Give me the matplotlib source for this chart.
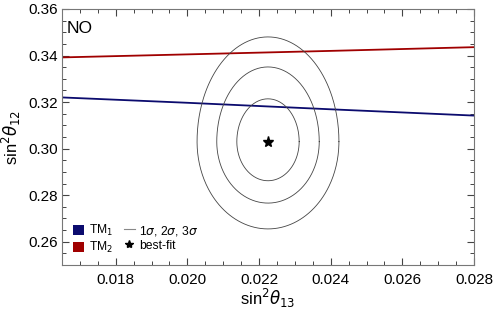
import numpy as np
import matplotlib
matplotlib.use("Agg")
import matplotlib.pyplot as plt
from matplotlib.patches import Patch
from matplotlib.lines import Line2D
from matplotlib.ticker import MultipleLocator

plt.rcParams["font.family"] = ["Liberation Sans", "DejaVu Sans"]
plt.rcParams["mathtext.fontset"] = "dejavusans"

# TM1 / TM2 prediction curves (sin^2 theta13, sin^2 theta12)
tm1_x = [0.0165, 0.0200, 0.0240, 0.0280]
tm1_y = [0.3220, 0.3197, 0.3169, 0.3142]
tm2_x = [0.0165, 0.0200, 0.0240, 0.0280]
tm2_y = [0.3392, 0.3405, 0.3420, 0.3436]

# best fit and 1,2,3 sigma contour extents
best_x, best_y = 0.02225, 0.3030
sig_dx   = [0.00087, 0.00143, 0.00198]
sig_up   = [0.0184, 0.0321, 0.0450]
sig_down = [0.0168, 0.0264, 0.0375]

fig = plt.figure(figsize=(4.94, 3.18), dpi=100)
ax = fig.add_axes([0.1255, 0.1667, 0.834, 0.805])

ax.plot(tm1_x, tm1_y, color="#0b0b6e", lw=1.3)
ax.plot(tm2_x, tm2_y, color="#a00000", lw=1.3)

t = np.linspace(0, 2 * np.pi, 400)
for dx, up, dn in zip(sig_dx, sig_up, sig_down):
    s = np.sin(t)
    xs = best_x + dx * np.cos(t)
    ys = best_y + np.where(s > 0, up, dn) * s
    ax.plot(xs, ys, color="#444444", lw=0.6)

ax.plot(best_x, best_y, marker="*", color="black", ms=8, ls="none")

ax.set_xlim(0.0165, 0.028)
ax.set_ylim(0.25, 0.36)
ax.xaxis.set_major_locator(MultipleLocator(0.002))
ax.xaxis.set_minor_locator(MultipleLocator(0.0005))
ax.yaxis.set_major_locator(MultipleLocator(0.02))
ax.yaxis.set_minor_locator(MultipleLocator(0.005))
ax.xaxis.set_major_formatter(plt.FuncFormatter(lambda v, p: f"{v:.3f}"))
ax.yaxis.set_major_formatter(plt.FuncFormatter(lambda v, p: f"{v:.2f}"))
ax.tick_params(which="both", direction="in", top=True, right=True,
               color="#444444", labelsize=11)
ax.tick_params(which="major", length=5, width=0.8)
ax.tick_params(which="minor", length=3, width=0.7)
ax.tick_params(axis="x", pad=6)
ax.tick_params(axis="y", pad=3)
for sp in ax.spines.values():
    sp.set_color("#777777")
    sp.set_linewidth(0.8)

ax.set_xlabel(r"$\mathregular{sin}^2\theta_{13}$", fontsize=12, labelpad=0)
ax.set_ylabel(r"$\mathregular{sin}^2\theta_{12}$", fontsize=12, labelpad=4)

ax.text(0.012, 0.955, "NO", transform=ax.transAxes, fontsize=12.5,
        ha="left", va="top")

handles = [
    Patch(facecolor="#0b0b6e", edgecolor="none"),
    Patch(facecolor="#a00000", edgecolor="none"),
    Line2D([], [], color="#888888", lw=0.8),
    Line2D([], [], marker="*", color="black", ls="none", ms=6),
]
labels = [r"TM$_1$", r"TM$_2$", r"1$\sigma$, 2$\sigma$, 3$\sigma$", "best-fit"]
ax.legend(handles, labels, ncol=2, loc="lower left", frameon=False,
          fontsize=8.7, handlelength=0.9, handleheight=0.9, handletextpad=0.4,
          columnspacing=0.9, labelspacing=0.15, borderaxespad=0.0,
          bbox_to_anchor=(0.015, 0.02))

fig.savefig("out.png", dpi=100)
